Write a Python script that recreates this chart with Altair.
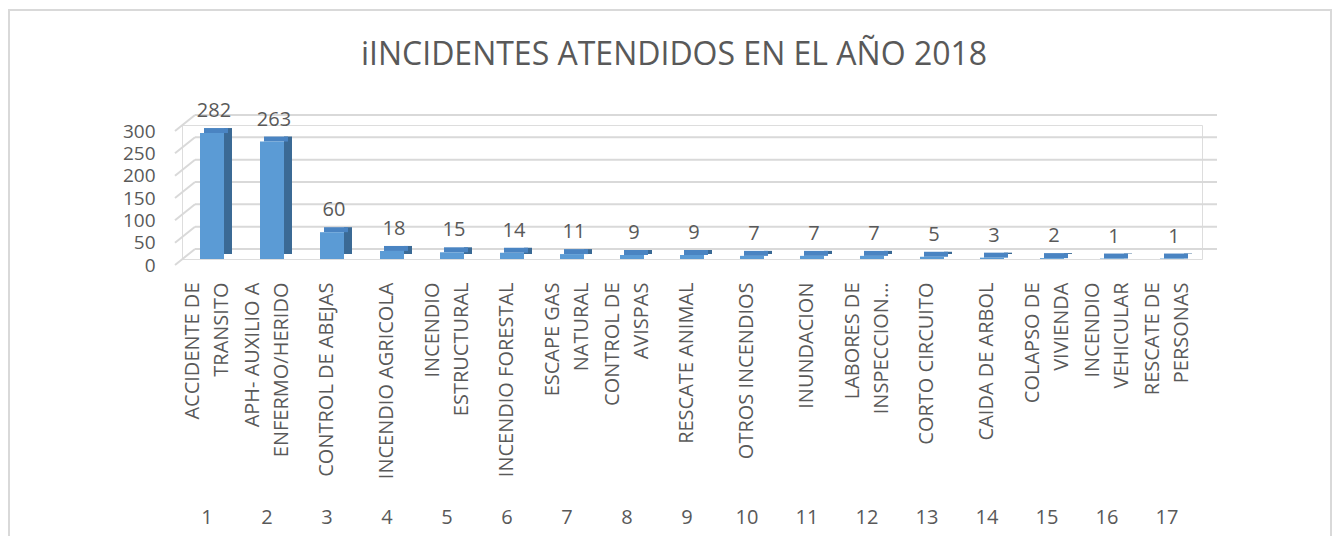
import altair as alt
import pandas as pd

TITLE = "iINCIDENTES ATENDIDOS EN EL AÑO 2018"
categories = ["ACCIDENTE DE|TRANSITO", "APH- AUXILIO A|ENFERMO/HERIDO", "CONTROL DE ABEJAS",
              "INCENDIO AGRICOLA", "INCENDIO|ESTRUCTURAL", "INCENDIO FORESTAL",
              "ESCAPE GAS|NATURAL", "CONTROL DE|AVISPAS", "RESCATE ANIMAL",
              "OTROS INCENDIOS", "INUNDACION", "LABORES DE|INSPECCION…",
              "CORTO CIRCUITO", "CAIDA DE ARBOL", "COLAPSO DE|VIVIENDA",
              "INCENDIO|VEHICULAR", "RESCATE DE|PERSONAS"]
values = [282, 263, 60, 18, 15, 14, 11, 9, 9, 7, 7, 7, 5, 3, 2, 1, 1]
numbers = [str(i) for i in range(1, 18)]
ticks = [0, 50, 100, 150, 200, 250, 300]

FONT = "Open Sans"
GREY = "#595959"
FRONT = "#5B9BD5"
SIDE = "#3B6A95"
TOP = "#4A84C2"
GRID = "#D9D9D9"

df = pd.DataFrame({"cat": categories, "value": values, "num": numbers})
tdf = pd.DataFrame({"tick": ticks})

xs = alt.Scale(domain=categories, paddingInner=0.6, paddingOuter=0.3)
x_axis = alt.Axis(labelExpr="split(datum.label, '|')", labelAngle=270, labelPadding=23,
                  labelOffset={"condition": {"test": "indexof(datum.value, '|') >= 0",
                                             "value": -19.5}, "value": -5},
                  labelFontSize=20, labelFont=FONT, labelColor=GREY,
                  labelLineHeight=29, labelLimit=400, ticks=False, domain=False,
                  grid=False, title=None, zindex=1)
ys = alt.Scale(domain=[0, 300], nice=False)
y_axis = alt.Axis(values=ticks, grid=False, domain=False, ticks=False, labelPadding=27,
                  labelOffset=6, labelFontSize=19, labelFont=FONT, labelColor=GREY,
                  title=None, zindex=1)

X = alt.X("cat:N", scale=xs, axis=x_axis, sort=categories)

frame = alt.Chart(pd.DataFrame({"t": [TITLE]})).mark_rect(
    fillOpacity=0, stroke=GRID, strokeWidth=2
).encode(x=alt.value(-173), x2=alt.value(1149), y=alt.value(-115), y2=alt.value(440))

grid = alt.Chart(tdf).mark_rule(color=GRID, strokeWidth=2, yOffset=-10).encode(
    y=alt.Y("tick:Q", scale=ys, axis=y_axis), x=alt.value(13), x2=alt.value(1035))

diag = alt.Chart(tdf).mark_rule(color=GRID, strokeWidth=2, yOffset=6, y2Offset=-10).encode(
    y=alt.Y("tick:Q", scale=ys, axis=y_axis), y2=alt.Y2("tick"),
    x=alt.value(-7), x2=alt.value(13))

base = alt.Chart(df)
side = base.mark_bar(color=SIDE, width=8, xOffset=16, yOffset=-5, y2Offset=-2).encode(
    x=X, y=alt.Y("value:Q", scale=ys, axis=y_axis))
top = base.mark_bar(color=TOP, xOffset=4, yOffset=-5, y2Offset=0).encode(
    x=X, y=alt.Y("value:Q", scale=ys, axis=y_axis), y2=alt.Y2("value"))
front = base.mark_bar(color=FRONT).encode(
    x=X, y=alt.Y("value:Q", scale=ys, axis=y_axis))

vlabels = base.mark_text(font=FONT, fontSize=20, color=GREY, baseline="alphabetic",
                         dy=-16, dx=2).encode(
    x=X, y=alt.Y("value:Q", scale=ys, axis=y_axis), text="value:Q")

nlabels = base.mark_text(font=FONT, fontSize=20, color=GREY, baseline="middle",
                         dx=-5).encode(x=X, y=alt.value(393), text="num:N")

title = alt.Chart(pd.DataFrame({"t": [TITLE]})).mark_text(
    font=FONT, fontSize=32, color=GREY, baseline="middle", align="center"
).encode(x=alt.value(492), y=alt.value(-70), text="t:N")

chart = alt.layer(frame, grid, diag, side, top, front, vlabels, nlabels, title).properties(
    width=1020, height=134,
    autosize=alt.AutoSizeParams(type="none"),
    padding={"left": 174, "top": 117, "right": 131, "bottom": 277},
).configure_view(stroke=None).configure(background="white")

chart.save("out.html", embed_options={"renderer": "svg", "actions": False})
